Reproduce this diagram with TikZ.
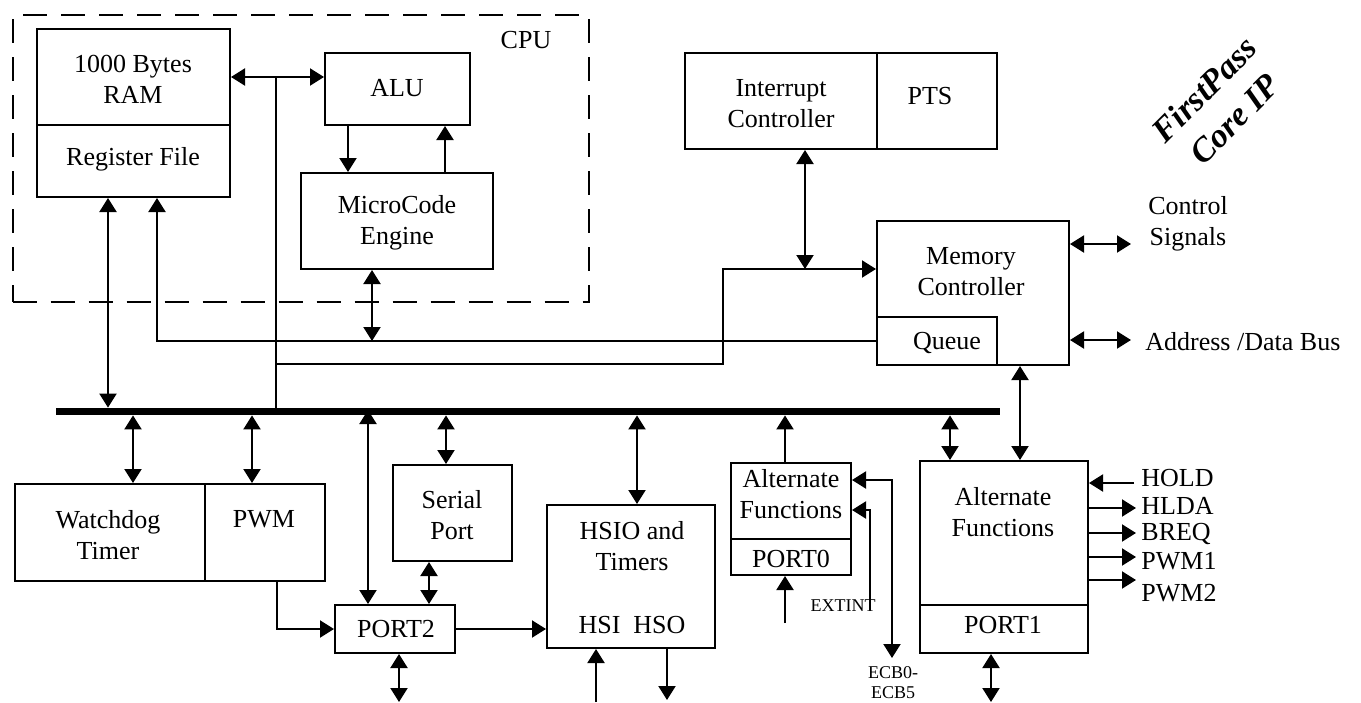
\documentclass[tikz,border=0pt]{standalone}
\usepackage{fontspec}
\setmainfont{Liberation Serif}
\usetikzlibrary{arrows.meta,fit}
\begin{document}
\begin{tikzpicture}[x=0.5pt,y=-0.5pt,
  box/.style={draw,line width=1pt,inner sep=0pt},
  lbl/.style={font=\fontsize{13}{15.5}\selectfont,align=center,inner sep=0pt},
  small/.style={font=\fontsize{9}{10}\selectfont,align=center,inner sep=0pt},
  ln/.style={line width=1pt},
  tri/.tip={Triangle[length=7pt,width=8.5pt]},
  ar/.style={ln,-tri},
  br/.style={ln,tri-tri},
  ra/.style={ln,tri-}]
\useasboundingbox (0,0) rectangle (1361,702);

% ---------- boxes ----------
\node[box,dash pattern=on 12pt off 7pt,fit={(12.5,15) (589,302)}] (cpu) {};
\node[lbl] (cpul) at (526,40) {CPU};
\node[box,fit={(37,29) (230,125)}] (ram) {};
\node[lbl] (raml) at (133,79) {1000 Bytes\\RAM};
\node[box,fit={(37,125) (230,197)}] (regf) {};
\node[lbl] (regfl) at (133,159) {Register File};
\node[box,fit={(325,53) (470,125)}] (alu) {};
\node[lbl] (alul) at (397,88) {ALU};
\node[box,fit={(301,173) (493,269)}] (mce) {};
\node[lbl] (mcel) at (397,223) {MicroCode\\Engine};

\node[box,fit={(685,53) (877,149)}] (intc) {};
\node[lbl] (intcl) at (781,104) {Interrupt\\Controller};
\node[box,fit={(877,53) (997,149)}] (pts) {};
\node[lbl] (ptsl) at (930,96) {PTS};

\node[box,fit={(877,221) (1069,365)}] (memc) {};
\node[lbl] (memcl) at (971,272) {Memory\\Controller};
\node[box,fit={(877,317) (997,365)}] (queue) {};
\node[lbl] (queuel) at (947,343) {Queue};

\node[lbl] (ctl) at (1188,224) {Control\\Signals};
\node[lbl,anchor=west] (adb) at (1145,342) {Address /Data Bus};

\node[lbl,rotate=45,font=\fontsize{17}{21}\selectfont\bfseries\itshape] (fp) at (1219,104) {FirstPass\\Core IP};

% bus
\node[fill=black,inner sep=0pt,fit={(56,408) (1000,415)}] (bus) {};

\node[box,fit={(15,484) (205,581)}] (wdt) {};
\node[lbl] (wdtl) at (108,535) {Watchdog\\Timer};
\node[box,fit={(205,484) (325,581)}] (pwm) {};
\node[lbl] (pwml) at (264,519) {PWM};
\node[box,fit={(393,465) (512,561)}] (ser) {};
\node[lbl] (serl) at (452,515) {Serial\\Port};
\node[box,fit={(335,605) (455,653)}] (port2) {};
\node[lbl] (port2l) at (396,629) {PORT2};
\node[box,fit={(547,505) (715,648)}] (hsio) {};
\node[lbl] (hsiol) at (632,546) {HSIO and\\Timers};
\node[lbl] (hsil) at (632,625) {HSI~~HSO};

\node[box,fit={(731,463) (851,539)}] (af0) {};
\node[lbl] (af0l) at (791,494) {Alternate\\Functions};
\node[box,fit={(731,539) (851,575)}] (port0) {};
\node[lbl] (port0l) at (791,559) {PORT0};
\node[small] (ext) at (843,606) {EXTINT};
\node[small] (ecb) at (893,683) {ECB0-\\ECB5};

\node[box,fit={(920,461) (1088,605)}] (af1) {};
\node[lbl] (af1l) at (1003,512) {Alternate\\Functions};
\node[box,fit={(920,605) (1088,653)}] (port1) {};
\node[lbl] (port1l) at (1003,625) {PORT1};

\node[lbl,anchor=west] (hold) at (1141,478) {HOLD};
\node[lbl,anchor=west] (hlda) at (1141,506) {HLDA};
\node[lbl,anchor=west] (breq) at (1141,534) {BREQ};
\node[lbl,anchor=west] (pwm1) at (1141,561) {PWM1};
\node[lbl,anchor=west] (pwm2) at (1141,593) {PWM2};

% ---------- free ends / junctions ----------
\coordinate (jra) at (276,77);
\coordinate (jq) at (276,364);
\coordinate (jm) at (723,364);
\coordinate (jmt) at (723,269);
\coordinate (ji) at (805,269);
\coordinate (jl) at (157,341);
\coordinate (jmc) at (372,341);
\coordinate (ctle) at (1131,244);
\coordinate (adbe) at (1131,340);
\coordinate (p2b) at (399,702);
\coordinate (hsib) at (596,702);
\coordinate (hsob) at (667,700);
\coordinate (p0b) at (785,623);
\coordinate (ecbt) at (892,658);
\coordinate (ecbc) at (892,480);
\coordinate (extb) at (870,610);
\coordinate (extc) at (870,510);
\coordinate (holde) at (1134,483);
\coordinate (p1b) at (991,702);

% ---------- connectors ----------
\draw[br] (ram.east |- jra) -- (alu.west |- jra);
\draw[ln] (jra) -- (jra |- bus.north);
\draw[ar] (jq) -- (jm) -- (jmt) -- (memc.west |- jmt);
\draw[ar] (348,0 |- alu.south) -- (348,0 |- mce.north);
\draw[ar] (445,0 |- mce.north) -- (445,0 |- alu.south);
\draw[br] (108,0 |- regf.south) -- (108,0 |- bus.north);
\draw[ra] (jl |- regf.south) -- (jl) -- (queue.west |- jl);
\draw[br] (jmc |- mce.south) -- (jmc);
\draw[br] (ji |- intc.south) -- (ji);
\draw[br] (memc.east |- ctle) -- (ctle);
\draw[br] (memc.east |- adbe) -- (adbe);
\draw[br] (1020,0 |- memc.south) -- (1020,0 |- af1.north);

\draw[br] (133,0 |- bus.south) -- (133,0 |- wdt.north);
\draw[br] (252,0 |- bus.south) -- (252,0 |- pwm.north);
\draw[br] (368,410) -- (368,0 |- port2.north);
\draw[br] (446,0 |- bus.south) -- (446,0 |- ser.north);
\draw[br] (429,0 |- ser.south) -- (429,0 |- port2.north);
\draw[ar] (277,0 |- pwm.south) |- (port2.west);
\draw[br] (p2b |- port2.south) -- (p2b);
\draw[ar] (port2.east) -- (port2.east -| hsio.west);
\draw[br] (637,0 |- bus.south) -- (637,0 |- hsio.north);
\draw[ar] (hsib) -- (hsib |- hsio.south);
\draw[ar] (hsob |- hsio.south) -- (hsob);

\draw[ar] (785,0 |- af0.north) -- (785,0 |- bus.south);
\draw[ar] (p0b) -- (p0b |- port0.south);
\draw[br] (ecbt) -- (ecbc) -- (ecbc -| af0.east);
\draw[ar] (extb) -- (extc) -- (extc -| af0.east);
\draw[br] (950,0 |- bus.south) -- (950,0 |- af1.north);

\draw[ar] (holde) -- (holde -| af1.east);
\draw[ar] (af1.east |- 0,508) -- (1136,508);
\draw[ar] (af1.east |- 0,533) -- (1136,533);
\draw[ar] (af1.east |- 0,557) -- (1136,557);
\draw[ar] (af1.east |- 0,580) -- (1136,580);
\draw[br] (p1b |- port1.south) -- (p1b);
\end{tikzpicture}
\end{document}
